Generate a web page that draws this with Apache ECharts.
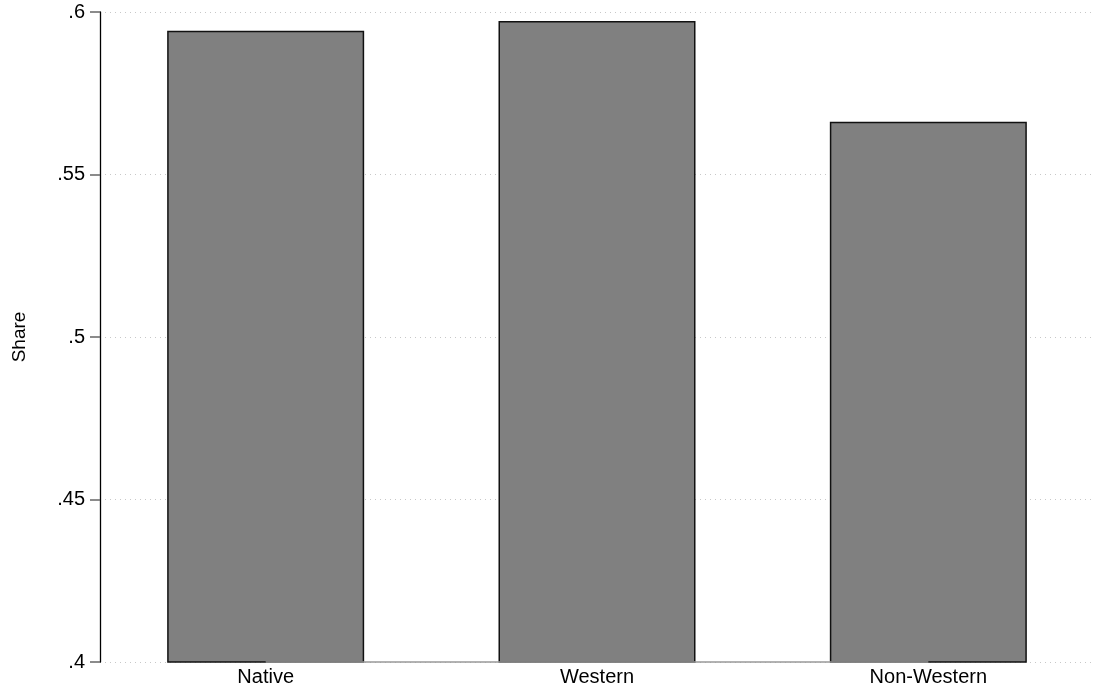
<!DOCTYPE html>
<html><head><meta charset="utf-8">
<script src="https://cdn.jsdelivr.net/npm/echarts@6/dist/echarts.min.js"></script>
<style>html,body{margin:0;padding:0;background:#fff}#c{width:1094px;height:694px}</style>
</head><body><div id="c"></div>
<script>
var categories = ['Native', 'Western', 'Non-Western'];
var shareValues = [0.5942, 0.5972, 0.5662];
var yTicks = [0.4, 0.45, 0.5, 0.55, 0.6];
var yTitle = 'Share';

var chart = echarts.init(document.getElementById('c'), null, {renderer: 'canvas'});
var font = 'Liberation Sans, Arial, sans-serif';
chart.setOption({
  animation: false,
  grid: {left: 100, right: 0, top: 12, bottom: 32, containLabel: false, outerBoundsMode: 'none'},
  xAxis: {
    type: 'category', data: categories,
    axisLine: {show: false}, axisTick: {show: false},
    axisLabel: {color: '#000', fontSize: 20, fontFamily: font, margin: 5}
  },
  yAxis: {
    type: 'value', min: 0.4, max: 0.6, interval: 0.05,
    name: yTitle, nameLocation: 'middle', nameGap: 71,
    nameTextStyle: {color: '#000', fontSize: 19, fontFamily: font},
    axisLine: {show: true, lineStyle: {color: '#000', width: 1.3}},
    axisTick: {show: true, length: 10, lineStyle: {color: '#666', width: 1.5}},
    axisLabel: {color: '#000', fontSize: 20, fontFamily: font, margin: 15,
      formatter: function (v) { return String(+v.toFixed(2)).replace(/^0/, ''); }},
    splitLine: {show: true, lineStyle: {color: '#c8c8c8', type: [1, 4], width: 1}}
  },
  series: [{
    type: 'bar', data: shareValues, barWidth: 197,
    itemStyle: {color: '#808080', borderColor: '#111', borderWidth: 1.5},
    markLine: {
      silent: true, symbol: ['none', 'none'], label: {show: false},
      lineStyle: {color: '#999', type: 'solid', width: 1.5},
      data: [[{coord: [categories[0], yTicks[0]]}, {coord: [categories[categories.length - 1], yTicks[0]]}]]
    }
  }]
});
</script></body></html>
